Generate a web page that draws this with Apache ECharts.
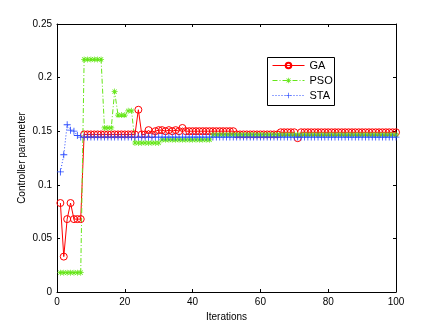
<!DOCTYPE html>
<html>
<head>
<meta charset="utf-8">
<title>Controller parameter</title>
<script src="https://cdn.jsdelivr.net/npm/echarts@6/dist/echarts.min.js"></script>
</head>
<body style="margin:0;background:#fff;">
<div id="container" style="width:436px;height:327px;"></div>
<script type="text/javascript">
// iterations 1..100
var iterations = [];
for (var i = 1; i <= 100; i++) iterations.push(i);

var gaValues = [
  0.083, 0.033, 0.068, 0.083, 0.068, 0.068, 0.068, 0.147, 0.147, 0.147,
  0.147, 0.147, 0.147, 0.147, 0.147, 0.147, 0.147, 0.147, 0.147, 0.147,
  0.147, 0.147, 0.147, 0.170, 0.147, 0.147, 0.151, 0.147, 0.150, 0.151,
  0.151, 0.150, 0.151, 0.150, 0.151, 0.150, 0.153, 0.150, 0.150, 0.150,
  0.150, 0.150, 0.150, 0.150, 0.150, 0.150, 0.150, 0.150, 0.150, 0.150,
  0.150, 0.150, 0.147, 0.147, 0.147, 0.147, 0.147, 0.147, 0.147, 0.147,
  0.147, 0.147, 0.147, 0.147, 0.147, 0.149, 0.149, 0.149, 0.149, 0.149,
  0.1435, 0.149, 0.149, 0.149, 0.149, 0.149, 0.149, 0.149, 0.149, 0.149,
  0.149, 0.149, 0.149, 0.149, 0.149, 0.149, 0.149, 0.149, 0.149, 0.149,
  0.149, 0.149, 0.149, 0.149, 0.149, 0.149, 0.149, 0.149, 0.149, 0.149
];

var psoValues = [
  0.018, 0.018, 0.018, 0.018, 0.018, 0.018, 0.018, 0.217, 0.217, 0.217,
  0.217, 0.217, 0.217, 0.153, 0.153, 0.153, 0.187, 0.165, 0.165, 0.165,
  0.169, 0.169, 0.139, 0.139, 0.139, 0.139, 0.139, 0.139, 0.139, 0.139,
  0.142, 0.142, 0.142, 0.142, 0.142, 0.142, 0.142, 0.142, 0.142, 0.142,
  0.142, 0.142, 0.142, 0.142, 0.142, 0.1465, 0.1465, 0.1465, 0.1465, 0.1465,
  0.1465, 0.1465, 0.1465, 0.1465, 0.1465, 0.1465, 0.1465, 0.1465, 0.1465, 0.1465,
  0.1465, 0.1465, 0.1465, 0.1465, 0.1465, 0.1465, 0.1465, 0.1465, 0.1465, 0.1465,
  0.1465, 0.1465, 0.1465, 0.1465, 0.1465, 0.1465, 0.1465, 0.1465, 0.1465, 0.1465,
  0.1465, 0.1465, 0.1465, 0.1465, 0.1465, 0.1465, 0.1465, 0.1465, 0.1465, 0.1465,
  0.1465, 0.1465, 0.1465, 0.1465, 0.1465, 0.1465, 0.1465, 0.1465, 0.1465, 0.1465
];

var staValues = [
  0.112, 0.128, 0.156, 0.151, 0.150, 0.146, 0.1445, 0.1445, 0.1445, 0.1445,
  0.1445, 0.1445, 0.1445, 0.1445, 0.1445, 0.1445, 0.1445, 0.1445, 0.1445, 0.1445,
  0.1445, 0.1445, 0.1445, 0.1445, 0.1445, 0.1445, 0.1445, 0.1445, 0.1445, 0.1445,
  0.1445, 0.1445, 0.1445, 0.1445, 0.1445, 0.1445, 0.1445, 0.1445, 0.1445, 0.1445,
  0.1445, 0.1445, 0.1445, 0.1445, 0.1445, 0.1445, 0.1445, 0.1445, 0.1445, 0.1445,
  0.1445, 0.1445, 0.1445, 0.1445, 0.1445, 0.1445, 0.1445, 0.1445, 0.1445, 0.1445,
  0.1445, 0.1445, 0.1445, 0.1445, 0.1445, 0.1445, 0.1445, 0.1445, 0.1445, 0.1445,
  0.1445, 0.1445, 0.1445, 0.1445, 0.1445, 0.1445, 0.1445, 0.1445, 0.1445, 0.1445,
  0.1445, 0.1445, 0.1445, 0.1445, 0.1445, 0.1445, 0.1445, 0.1445, 0.1445, 0.1445,
  0.1445, 0.1445, 0.1445, 0.1445, 0.1445, 0.1445, 0.1445, 0.1445, 0.1445, 0.1445
];

var seriesNames = ['GA', 'PSO', 'STA'];

function pairs(vals) {
  return vals.map(function (v, k) { return [iterations[k], v]; });
}

// marker shapes drawn as filled thin bars
var plusPath = 'path://M-1,-0.12H1V0.12H-1Z M-0.12,-1H0.12V1H-0.12Z';
var starPath = 'path://M-1,-0.12H1V0.12H-1Z M-0.12,-1H0.12V1H-0.12Z ' +
  'M-0.61,-0.79L0.79,0.61L0.61,0.79L-0.79,-0.61Z M-0.79,0.61L0.61,-0.79L0.79,-0.61L-0.61,0.79Z';

var font = 'Liberation Sans';
var chart = echarts.init(document.getElementById('container'));

var axisCommon = {
  axisLine: { show: true, onZero: false, lineStyle: { color: '#000', width: 1 } },
  axisTick: { show: true, inside: true, length: 3, lineStyle: { color: '#000' } },
  splitLine: { show: false }
};

chart.setOption({
  animation: false,
  backgroundColor: '#fff',
  textStyle: { fontFamily: font },
  grid: { left: 57, right: 40, top: 24, bottom: 35 },
  // legend frame
  graphic: [{
    type: 'rect', left: 267, top: 57, z: 10,
    shape: { width: 67, height: 48 },
    style: { fill: '#fff', stroke: '#000', lineWidth: 1 }
  }],
  legend: {
    data: seriesNames,
    orient: 'vertical',
    left: 272,
    top: 60,
    z: 20,
    itemWidth: 32,
    itemHeight: 7,
    itemGap: 4,
    padding: 0,
    lineStyle: { width: 1 },
    textStyle: { fontFamily: font, fontSize: 11, color: '#000' }
  },
  xAxis: [
    Object.assign({
      type: 'value', min: 0, max: 100, interval: 20,
      name: 'Iterations', nameLocation: 'middle', nameGap: 17,
      nameTextStyle: { fontFamily: font, fontSize: 10, color: '#000' },
      axisLabel: { fontFamily: font, fontSize: 10, color: '#000', margin: 5 }
    }, axisCommon),
    Object.assign({
      type: 'value', min: 0, max: 100, interval: 20, position: 'top',
      axisLabel: { show: false }
    }, axisCommon)
  ],
  yAxis: [
    Object.assign({
      type: 'value', min: 0, max: 0.25, interval: 0.05,
      name: 'Controller parameter', nameLocation: 'middle', nameGap: 30,
      nameMoveOverlap: false,
      nameTextStyle: { fontFamily: font, fontSize: 10, color: '#000' },
      axisLabel: { fontFamily: font, fontSize: 10, color: '#000', margin: 5 }
    }, axisCommon),
    Object.assign({
      type: 'value', min: 0, max: 0.25, interval: 0.05, position: 'right',
      axisLabel: { show: false }
    }, axisCommon)
  ],
  series: [
    {
      name: 'GA', type: 'line', data: pairs(gaValues),
      symbol: 'circle', symbolSize: 7, showAllSymbol: true,
      lineStyle: { color: '#ff0000', width: 1 },
      itemStyle: { color: 'rgba(0,0,0,0)', borderColor: '#ff0000', borderWidth: 1 }
    },
    {
      name: 'PSO', type: 'line', data: pairs(psoValues),
      symbol: starPath, symbolSize: 6, showAllSymbol: true,
      lineStyle: { color: '#66e61a', width: 1, type: [5, 2, 1, 2] },
      itemStyle: { color: '#66e61a' }
    },
    {
      name: 'STA', type: 'line', data: pairs(staValues),
      symbol: plusPath, symbolSize: 7, showAllSymbol: true,
      lineStyle: { color: '#2b4cff', width: 1, type: [1, 2] },
      itemStyle: { color: '#2b4cff' }
    }
  ]
});
</script>
</body>
</html>
